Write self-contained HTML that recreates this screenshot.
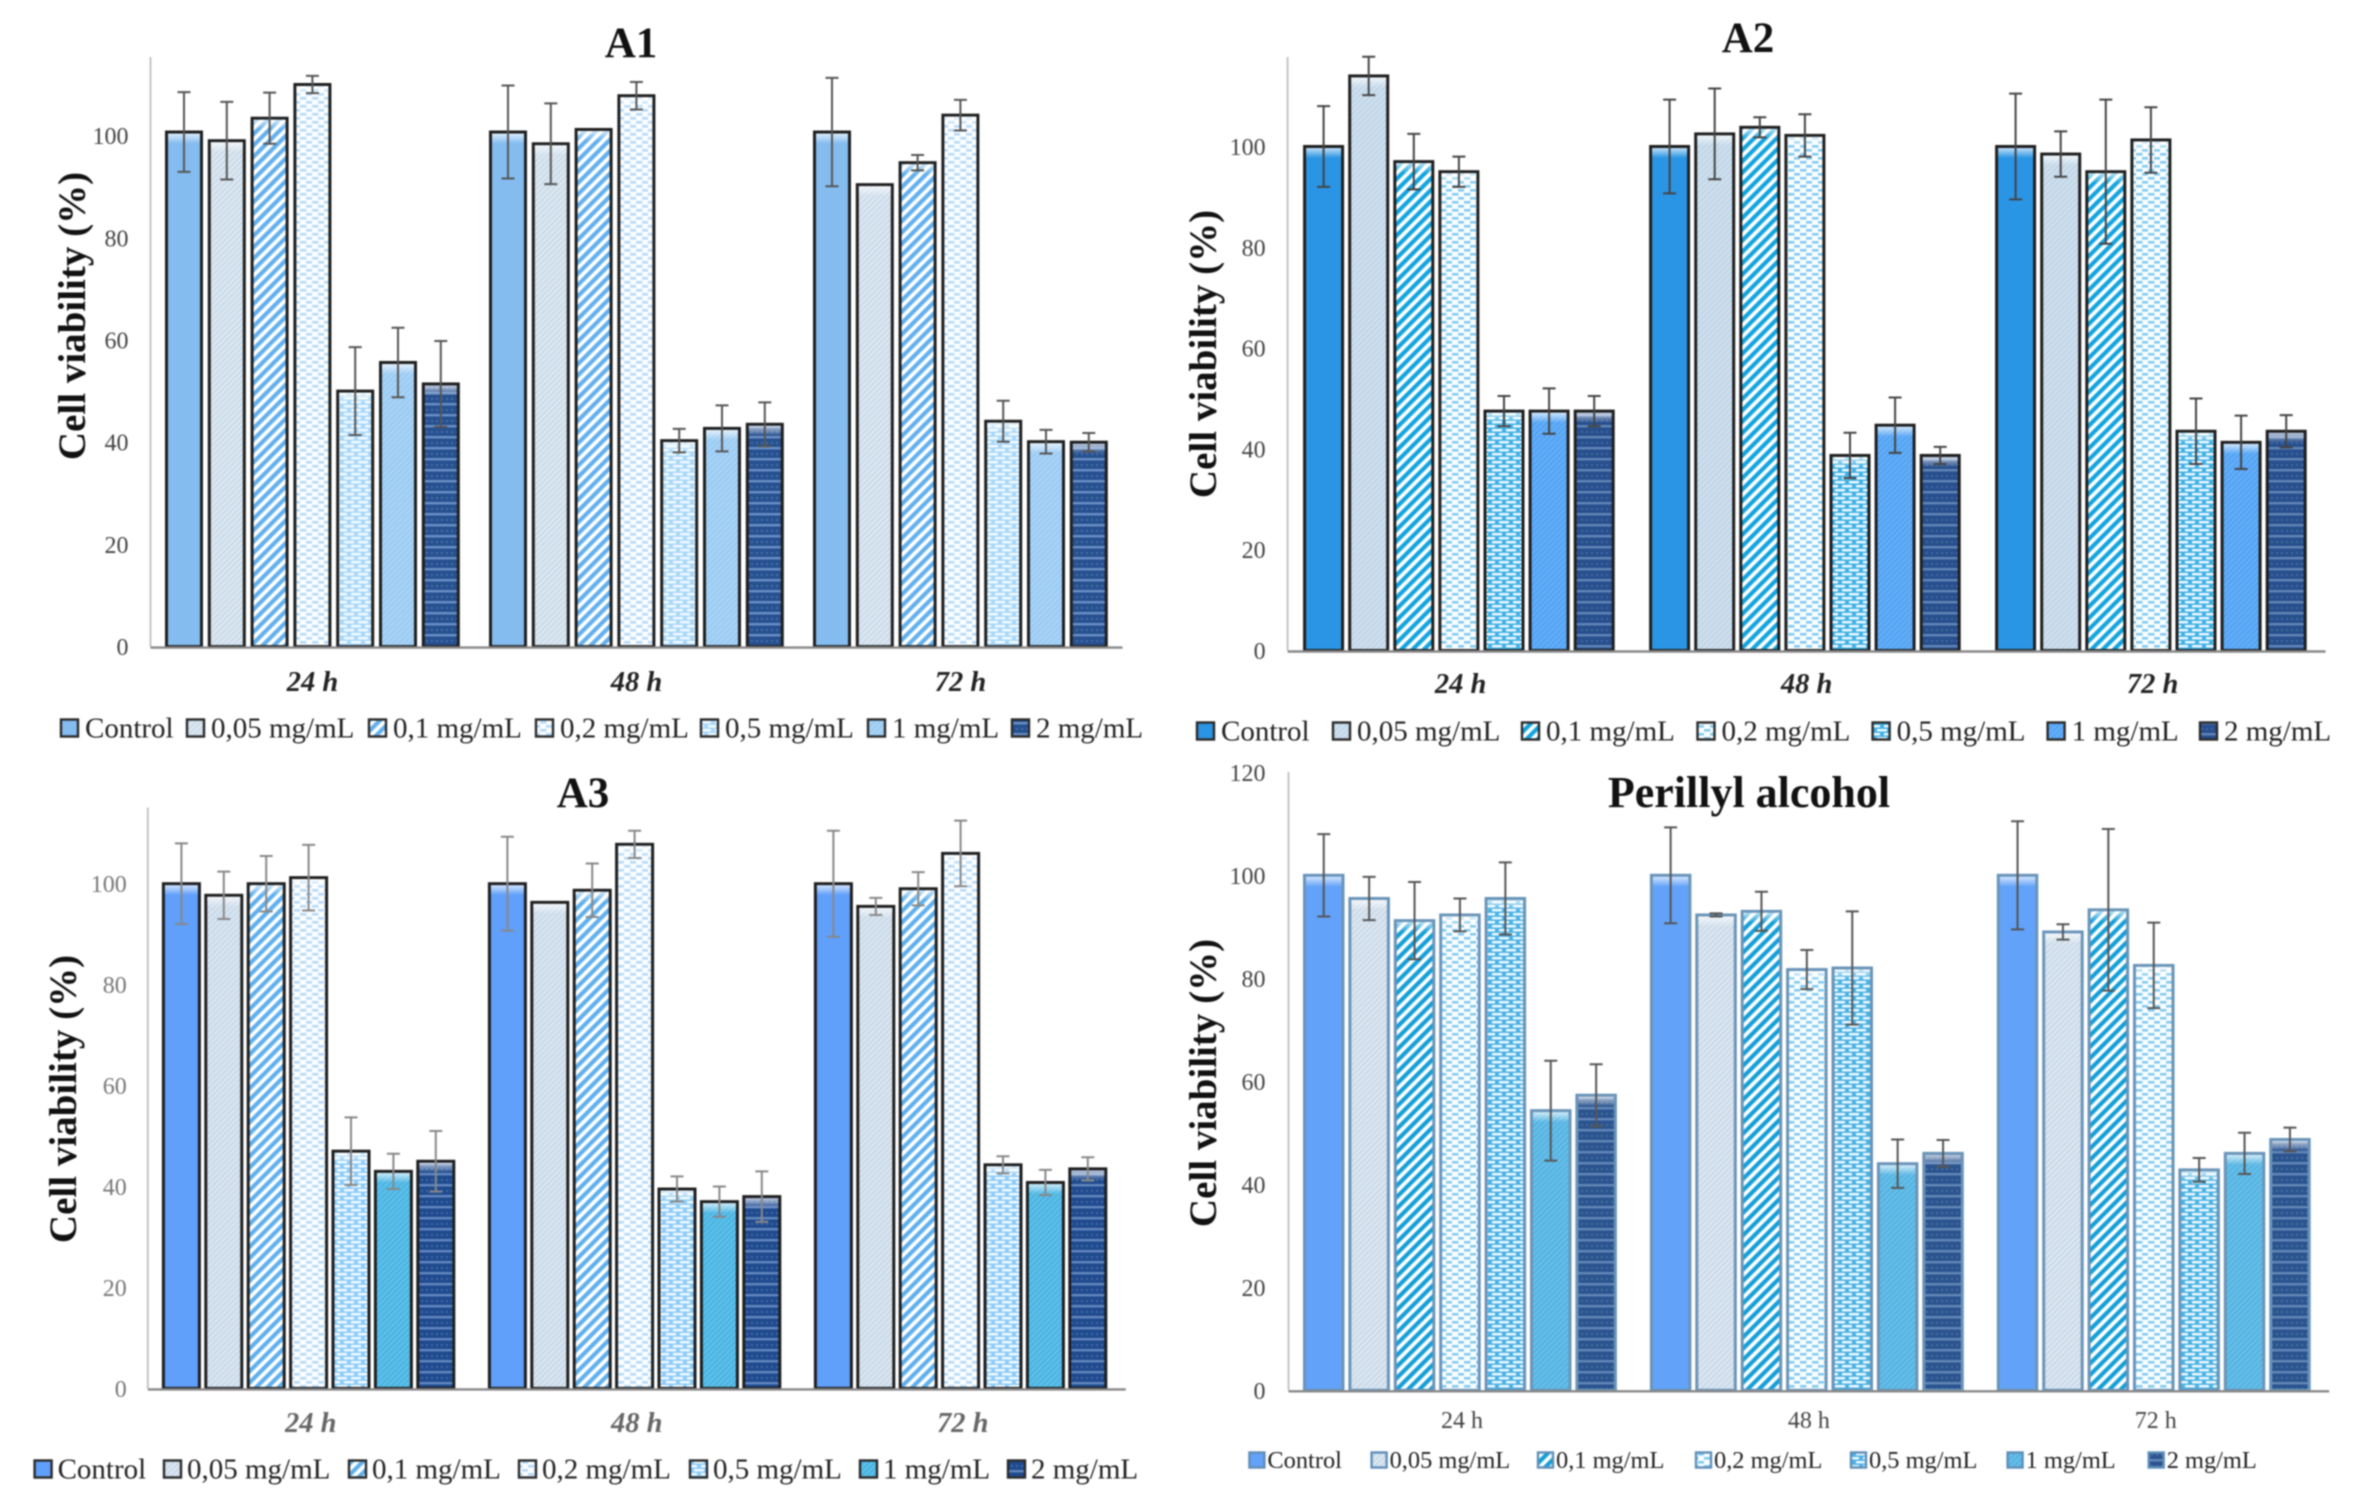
<!DOCTYPE html>
<html lang="en">
<head>
<meta charset="utf-8">
<title>Cell viability charts</title>
<style>
html,body{margin:0;padding:0;background:#fff;}
body{width:2363px;height:1506px;overflow:hidden;}
svg{display:block;filter:blur(0.8px);font-family:"Liberation Serif",serif;}
</style>
</head>
<body>
<svg id="figure" xmlns="http://www.w3.org/2000/svg" width="2363" height="1506" viewBox="0 0 2363 1506">
  <defs id="defs">
    <linearGradient id="top-shine" x1="0" y1="0" x2="0" y2="1">
      <stop offset="0" stop-color="#fff" stop-opacity="0.7"/>
      <stop offset="1" stop-color="#fff" stop-opacity="0"/>
    </linearGradient>
  </defs>
  <rect width="2363" height="1506" fill="#fff"/>
  <text x="631" y="57" text-anchor="middle" font-size="43" font-weight="bold" fill="#111">A1</text>
  <text x="1748" y="52" text-anchor="middle" font-size="43" font-weight="bold" fill="#111">A2</text>
  <text x="583" y="807" text-anchor="middle" font-size="43" font-weight="bold" fill="#111">A3</text>
  <text x="1749" y="807" text-anchor="middle" font-size="44" font-weight="bold" fill="#111">Perillyl alcohol</text>
  <text transform="translate(85,316) rotate(-90)" text-anchor="middle" font-size="39" font-weight="bold" fill="#111">Cell viability (%)</text>
  <text transform="translate(1216,354) rotate(-90)" text-anchor="middle" font-size="39" font-weight="bold" fill="#111">Cell viability (%)</text>
  <text transform="translate(76,1099) rotate(-90)" text-anchor="middle" font-size="39" font-weight="bold" fill="#111">Cell viability (%)</text>
  <text transform="translate(1216,1083) rotate(-90)" text-anchor="middle" font-size="39" font-weight="bold" fill="#111">Cell viability (%)</text>
</svg>
<script>
// ---- chart data ----
const categories = ['24 h', '48 h', '72 h'];
const seriesNames = ['Control', '0,05 mg/mL', '0,1 mg/mL', '0,2 mg/mL', '0,5 mg/mL', '1 mg/mL', '2 mg/mL'];
const tickLabels = [0, 20, 40, 60, 80, 100];
const tickLabelsPerillyl = [0, 20, 40, 60, 80, 100, 120];

const a1Values24h = [100.7, 99, 103.4, 110, 50, 55.6, 51.4];
const a1Values48h = [100.7, 98.4, 101.2, 107.8, 40.3, 42.7, 43.5];
const a1Values72h = [100.7, 90.4, 94.7, 104, 44.1, 40.1, 40];
const a1Errors24h = [7.8, 7.6, 5, 1.7, 8.6, 6.8, 8.4];
const a1Errors48h = [9.1, 7.9, 0, 2.7, 2.3, 4.5, 4.3];
const a1Errors72h = [10.6, 0, 1.5, 3, 4, 2.3, 1.8];

const a2Values24h = [100, 114, 97, 95, 47.5, 47.5, 47.5];
const a2Values48h = [100, 102.5, 103.8, 102.2, 38.7, 44.7, 38.7];
const a2Values72h = [100, 98.5, 95, 101.3, 43.5, 41.3, 43.5];
const a2Errors24h = [8, 3.8, 5.5, 3, 3, 4.5, 3];
const a2Errors48h = [9.3, 9, 2, 4.2, 4.5, 5.5, 1.7];
const a2Errors72h = [10.5, 4.5, 14.3, 6.5, 6.5, 5.3, 3.2];

const a3Values24h = [100, 97.7, 100, 101.2, 47, 43, 45];
const a3Values48h = [100, 96.3, 98.7, 107.8, 39.5, 37, 38];
const a3Values72h = [100, 95.5, 99, 106, 44.3, 40.8, 43.5];
const a3Errors24h = [8, 4.7, 5.5, 6.5, 6.7, 3.5, 6];
const a3Errors48h = [9.3, 0, 5.3, 2.7, 2.5, 3, 5];
const a3Errors72h = [10.5, 1.7, 3.3, 6.5, 1.7, 2.5, 2.3];

const perillylValues24h = [100, 95.5, 91.2, 92.3, 95.5, 54.3, 57.3];
const perillylValues48h = [100, 92.3, 93, 81.7, 82, 44, 46];
const perillylValues72h = [100, 89, 93.3, 82.5, 42.8, 46, 48.7];
const perillylErrors24h = [8, 4.2, 7.5, 3.2, 7, 9.7, 6];
const perillylErrors48h = [9.3, 0.3, 3.8, 3.8, 11, 4.7, 2.6];
const perillylErrors72h = [10.5, 1.5, 15.7, 8.3, 2.3, 4, 2.3];

// ---- panel layout and styling ----
const panels = [
  { id: 'a1', values: [a1Values24h, a1Values48h, a1Values72h], errors: [a1Errors24h, a1Errors48h, a1Errors72h], ticks: tickLabels,
    x0: 150.5, groupW: 324, pad: 16, pitch: 42.8, barW: 35, y0: 646.6, unit: 5.11, top: 57,
    tickGap: 22, tickSize: 24, tickFill: '#444', catY: 691, catSize: 28.5, catStyle: 'italic', catWeight: 'bold', catFill: '#222',
    legendX: [61, 187, 369, 536, 701, 868, 1012], legendY: 728, legendSize: 29, swatch: 17, swatchGap: 24,
    stroke: '#1e1e1e', err: '#555',
    c: { control: '#84bcf0', fine: '#dce7f1', fineL: '#c8d9e8', hatch: '#62b0ee', dots: '#b4dafa', brick: '#a9d8fa', one: '#a8d3f7', oneL: '#98c8f0', two: '#26508f', twoL: '#6b90c6' } },
  { id: 'a2', values: [a2Values24h, a2Values48h, a2Values72h], errors: [a2Errors24h, a2Errors48h, a2Errors72h], ticks: tickLabels,
    x0: 1287.6, groupW: 346, pad: 17, pitch: 45.1, barW: 38, y0: 650.5, unit: 5.04, top: 57,
    tickGap: 22, tickSize: 24, tickFill: '#444', catY: 693, catSize: 28.5, catStyle: 'italic', catWeight: 'bold', catFill: '#222',
    legendX: [1197, 1333, 1522, 1697.5, 1872.6, 2047.6, 2200], legendY: 731, legendSize: 29, swatch: 17, swatchGap: 24,
    stroke: '#1e1e1e', err: '#444',
    c: { control: '#2a95e4', fine: '#cfe0ee', fineL: '#bdd3e6', hatch: '#12a4df', dots: '#7fcbf0', brick: '#3fb1e6', one: '#62aefa', oneL: '#52a0ee', two: '#274f8d', twoL: '#6386b8' } },
  { id: 'a3', values: [a3Values24h, a3Values48h, a3Values72h], errors: [a3Errors24h, a3Errors48h, a3Errors72h], ticks: tickLabels,
    x0: 147.8, groupW: 326, pad: 15.6, pitch: 42.4, barW: 36, y0: 1388.4, unit: 5.047, top: 807.6,
    tickGap: 21, tickSize: 24, tickFill: '#777', catY: 1432, catSize: 28.5, catStyle: 'italic', catWeight: 'bold', catFill: '#666',
    legendX: [34.6, 164, 349, 519, 690, 860, 1008], legendY: 1469, legendSize: 29, swatch: 17, swatchGap: 23,
    stroke: '#1e1e1e', err: '#888',
    c: { control: '#609ffa', fine: '#d9e5f0', fineL: '#c6d7e6', hatch: '#5fb0ee', dots: '#b4dafa', brick: '#8ccbf7', one: '#5cc0ea', oneL: '#48b0de', two: '#1f4b8e', twoL: '#6488c0' } },
  { id: 'perillyl', values: [perillylValues24h, perillylValues48h, perillylValues72h], errors: [perillylErrors24h, perillylErrors48h, perillylErrors72h], ticks: tickLabelsPerillyl,
    x0: 1288.5, groupW: 346.9, pad: 16, pitch: 45.4, barW: 38.5, y0: 1390.3, unit: 5.15, top: 772,
    tickGap: 23, tickSize: 24, tickFill: '#444', catY: 1428, catSize: 24, catStyle: 'normal', catWeight: 'normal', catFill: '#444',
    legendX: [1249.4, 1371.6, 1538, 1696, 1851, 2007.6, 2148.7], legendY: 1460, legendSize: 24.4, swatch: 15, swatchGap: 18,
    stroke: '#6a94b8', err: '#555',
    c: { control: '#62a2f9', fine: '#dbe6f1', fineL: '#c8d8e6', hatch: '#149fd8', dots: '#7fcbf0', brick: '#4ab2e4', one: '#66bfe9', oneL: '#52afdd', two: '#2b548f', twoL: '#6488b8' } }
];

const NS = 'http://www.w3.org/2000/svg';
const svg = document.getElementById('figure');
const defs = document.getElementById('defs');

function make(tag, attrs, text) {
  const node = document.createElementNS(NS, tag);
  for (const key in attrs) node.setAttribute(key, attrs[key]);
  if (text !== undefined) node.textContent = text;
  return node;
}

// axis functions
function yScale(p, v) { return p.y0 - v * p.unit; }
function xScale(p, g, s) { return p.x0 + g * p.groupW + p.pad + s * p.pitch; }

function addPatterns(p) {
  const c = p.c, id = p.id;
  const src =
    `<pattern id="${id}-fine" width="4" height="4" patternUnits="userSpaceOnUse" patternTransform="rotate(45)"><rect width="4" height="4" fill="${c.fine}"/><rect width="1.6" height="4" fill="${c.fineL}"/></pattern>` +
    `<pattern id="${id}-hatch" width="8" height="8" patternUnits="userSpaceOnUse" patternTransform="rotate(45)"><rect width="8" height="8" fill="#fff"/><rect width="4.2" height="8" fill="${c.hatch}"/></pattern>` +
    `<pattern id="${id}-dots" width="12" height="8" patternUnits="userSpaceOnUse"><rect width="12" height="8" fill="#fbfdff"/><rect x="0" y="1" width="6.5" height="2.6" fill="${c.dots}"/><rect x="6" y="5" width="6" height="2.6" fill="${c.dots}"/></pattern>` +
    `<pattern id="${id}-brick" width="14" height="8" patternUnits="userSpaceOnUse"><rect width="14" height="8" fill="${c.brick}"/><rect x="1" y="1" width="10" height="2.4" fill="#f4fbff"/><rect x="8" y="5" width="10" height="2.4" fill="#f4fbff"/><rect x="-6" y="5" width="10" height="2.4" fill="#f4fbff"/></pattern>` +
    `<pattern id="${id}-one" width="4" height="4" patternUnits="userSpaceOnUse" patternTransform="rotate(45)"><rect width="4" height="4" fill="${c.one}"/><rect width="1.6" height="4" fill="${c.oneL}"/></pattern>` +
    `<pattern id="${id}-two" width="5" height="11" patternUnits="userSpaceOnUse"><rect width="5" height="11" fill="${c.two}"/><rect y="7" width="5" height="2.4" fill="${c.twoL}"/><rect x="1" y="2" width="2" height="2" fill="${c.twoL}" opacity="0.5"/></pattern>`;
  const holder = document.createElementNS(NS, 'svg');
  holder.innerHTML = src;
  while (holder.firstChild) defs.appendChild(holder.firstChild);
}

function seriesFill(p, s) {
  const names = ['', 'fine', 'hatch', 'dots', 'brick', 'one', 'two'];
  return s === 0 ? p.c.control : `url(#${p.id}-${names[s]})`;
}

panels.forEach(function (p) {
  addPatterns(p);
  const group = make('g', {});
  
  
  svg.appendChild(group);

  // y axis line
  const yAxis = make('line', { x1: p.x0, x2: p.x0, y1: p.top, y2: p.y0, stroke: '#c4c4c4', 'stroke-width': 2 });
  
  
  group.appendChild(yAxis);

  // tick labels
  p.ticks.forEach(function (t) {
    const label = make('text', { x: p.x0 - p.tickGap, y: yScale(p, t) + 8.5, 'text-anchor': 'end', 'font-size': p.tickSize, fill: p.tickFill }, String(t));
    
    
    group.appendChild(label);
  });

  // bars and error bars
  categories.forEach(function (cat, g) {
    seriesNames.forEach(function (name, s) {
      const v = p.values[g][s];
      const e = p.errors[g][s];
      const x = xScale(p, g, s);
      const y = yScale(p, v);
      const h = p.y0 - y;
      const bar = make('rect', { x: x, y: y, width: p.barW, height: h, fill: seriesFill(p, s), stroke: p.stroke, 'stroke-width': 3 });
      
      
      group.appendChild(bar);

      const shine = make('rect', { x: x + 1.5, y: y + 1.5, width: p.barW - 3, height: Math.min(10, h), fill: 'url(#top-shine)' });
      
      
      group.appendChild(shine);

      if (e > 0) {
        const cx = x + p.barW / 2;
        const yHi = yScale(p, v + e);
        const yLo = yScale(p, v - e);
        const cap = 6.5;
        const whisker = make('path', {
          d: `M${cx} ${yHi}V${yLo}M${cx - cap} ${yHi}H${cx + cap}M${cx - cap} ${yLo}H${cx + cap}`,
          stroke: p.err, 'stroke-width': 2, fill: 'none'
        });
        
        
        group.appendChild(whisker);
      }
    });

    // category label
    const catLabel = make('text', {
      x: p.x0 + (g + 0.5) * p.groupW, y: p.catY, 'text-anchor': 'middle', 'font-size': p.catSize,
      'font-style': p.catStyle, 'font-weight': p.catWeight, fill: p.catFill
    }, cat);
    
    
    group.appendChild(catLabel);
  });

  // x axis line
  const xAxis = make('line', { x1: p.x0, x2: p.x0 + 3 * p.groupW, y1: p.y0 + 1, y2: p.y0 + 1, stroke: '#888', 'stroke-width': 2.4 });
  
  
  group.appendChild(xAxis);

  // legend
  seriesNames.forEach(function (name, s) {
    const entry = make('g', {});
    
    
    const sw = make('rect', {
      x: p.legendX[s], y: p.legendY - p.swatch / 2, width: p.swatch, height: p.swatch,
      fill: seriesFill(p, s), stroke: p.id === 'perillyl' ? '#5f8fb8' : '#2a2a2a', 'stroke-width': 2.4
    });
    
    
    entry.appendChild(sw);
    const txt = make('text', {
      x: p.legendX[s] + p.swatchGap, y: p.legendY + p.legendSize * 0.32, 'font-size': p.legendSize, fill: '#222'
    }, name);
    
    
    entry.appendChild(txt);
    group.appendChild(entry);
  });
});
</script>
</body>
</html>
